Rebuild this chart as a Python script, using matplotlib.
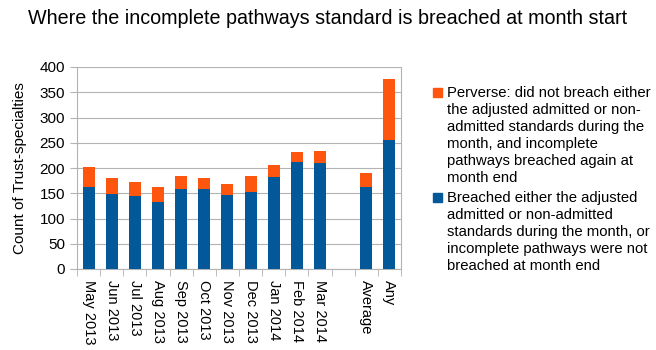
import matplotlib.pyplot as plt
from matplotlib.patches import Rectangle
import numpy as np

plt.rcParams['font.family'] = ['Liberation Sans', 'DejaVu Sans']

labels = ["May 2013", "Jun 2013", "Jul 2013", "Aug 2013", "Sep 2013", "Oct 2013",
          "Nov 2013", "Dec 2013", "Jan 2014", "Feb 2014", "Mar 2014", "", "Average", "Any"]
breached = [162, 149, 144, 132, 158, 158, 146, 153, 182, 211, 210, 0, 163, 255]
totals = [202, 181, 172, 162, 184, 180, 169, 184, 206, 231, 234, 0, 191, 377]
perverse = [t - b for t, b in zip(totals, breached)]

blue = "#03589a"
orange = "#ff560f"
grey = "#b3b3b3"
perverse_label = ("Perverse: did not breach either\nthe adjusted admitted or non-\n"
                  "admitted standards during the\nmonth, and incomplete\n"
                  "pathways breached again at\nmonth end")
breached_label = ("Breached either the adjusted\nadmitted or non-admitted\n"
                  "standards during the month, or\nincomplete pathways were not\n"
                  "breached at month end")

W, H = 656, 350
fig = plt.figure(figsize=(W / 100, H / 100), dpi=100)
ax = fig.add_axes([77 / W, 1 - 269 / H, 324 / W, 202 / H])

x = np.arange(len(labels))
ax.bar(x, breached, width=0.52, color=blue, zorder=3)
ax.bar(x, perverse, bottom=breached, width=0.52, color=orange, zorder=3)

ax.set_xlim(-0.5, len(labels) - 0.5)
ax.set_ylim(0, 400)
ax.set_yticks(range(0, 401, 50))
ax.set_xticks(x)
ax.set_xticklabels(labels, rotation=-90, fontsize=10.5)
ax.set_xticks(np.arange(-0.5, len(labels), 1), minor=True)
ax.tick_params(axis='x', which='major', length=0, pad=8)
ax.tick_params(axis='x', which='minor', length=5, color=grey)
ax.tick_params(axis='y', length=5, color=grey, labelsize=11)
ax.grid(axis='y', color=grey, lw=0.8, zorder=0)
ax.spines["top"].set_visible(False)
for s in ["left", "bottom", "right"]:
    ax.spines[s].set_color(grey)
ax.set_ylabel("Count of Trust-specialties", fontsize=11, labelpad=9)

fig.text(0.5, 1 - 19 / H, "Where the incomplete pathways standard is breached at month start",
         ha="center", va="center", fontsize=14.2)

# legend drawn by hand so the swatch sits on the first line of each label
for top, color, text in [(86, orange, perverse_label), (191, blue, breached_label)]:
    fig.patches.append(Rectangle((433 / W, 1 - (top + 11) / H), 9 / W, 9 / H,
                                 transform=fig.transFigure, color=color))
    fig.text(447 / W, 1 - top / H, text, ha="left", va="top",
             fontsize=10.75, linespacing=1.28)

fig.savefig("out.png", dpi=100)
